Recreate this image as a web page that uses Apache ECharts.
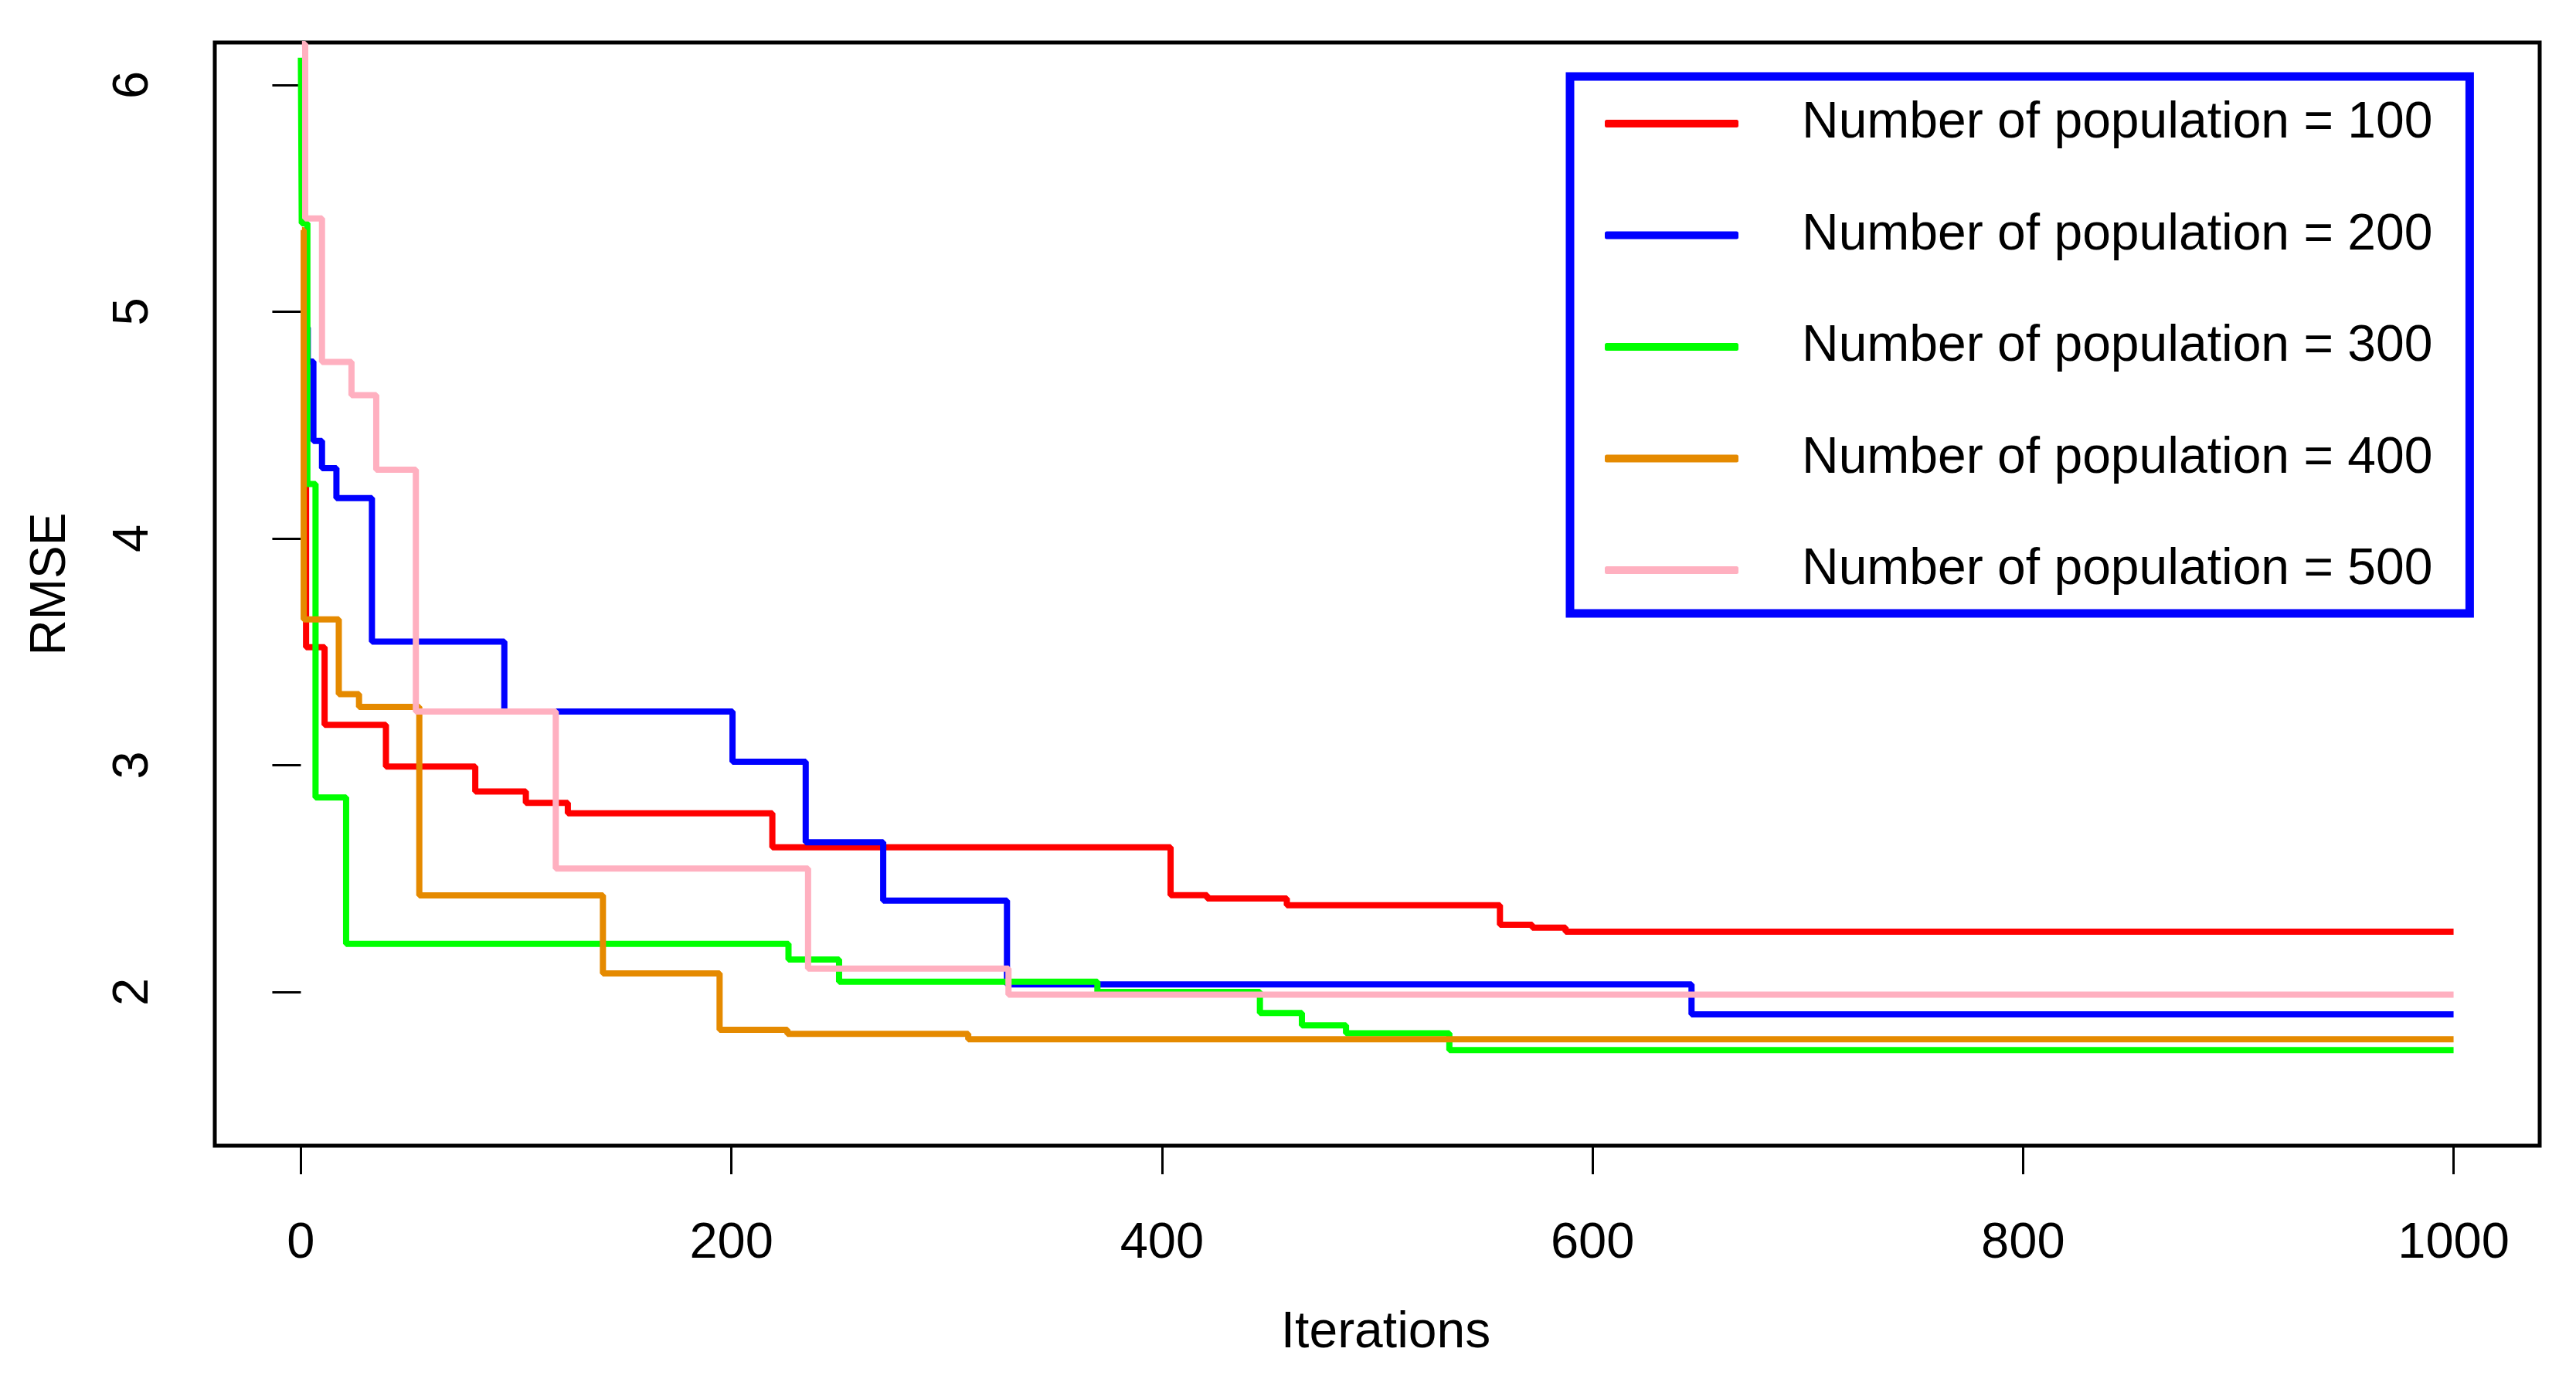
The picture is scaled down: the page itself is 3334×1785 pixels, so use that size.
<!DOCTYPE html>
<html>
<head>
<meta charset="utf-8">
<script src="https://cdn.jsdelivr.net/npm/echarts@6/dist/echarts.min.js"></script>
<style>
html,body{margin:0;padding:0;background:#fff;}
#chart{width:3334px;height:1785px;}
</style>
</head>
<body>
<div id="chart"></div>
<script>
// ---- data ----
const seriesNames = [
  'Number of population = 100',
  'Number of population = 200',
  'Number of population = 300',
  'Number of population = 400',
  'Number of population = 500'
];
const seriesColors = ['#FF0000', '#0000FF', '#00FF00', '#E58A00', '#FFB0C0'];

const iter100 = [0.5, 2.4, 11, 39.5, 81, 104.5, 124, 219, 404, 421, 458, 557, 572, 587.5, 1000];
const rmse100 = [5.1, 3.52, 3.178, 2.994, 2.884, 2.834, 2.788, 2.638, 2.427, 2.412, 2.382, 2.296, 2.284, 2.266, 2.266];

const iter200 = [1, 3.2, 5.8, 9.8, 16.5, 33, 94.5, 200.5, 234.5, 270.5, 328, 646, 1000];
const rmse200 = [4.93, 4.78, 4.43, 4.31, 4.178, 3.545, 3.237, 3.015, 2.66, 2.403, 2.033, 1.901, 1.901];

const iter300 = [0, 0.4, 3, 6.8, 21, 226.5, 250, 370, 445.5, 465, 485.5, 533.5, 1000];
const rmse300 = [6.12, 5.39, 4.24, 2.858, 2.212, 2.143, 2.045, 2.0, 1.907, 1.853, 1.818, 1.744, 1.744];

const iter400 = [0.5, 1.3, 17.6, 27, 55, 140.3, 194.5, 226, 310, 1000];
const rmse400 = [5.36, 3.643, 3.313, 3.257, 2.426, 2.082, 1.833, 1.815, 1.791, 1.791];

const iter500 = [0.5, 2, 9.8, 23.5, 35, 53.4, 118.4, 235.6, 328.7, 1000];
const rmse500 = [6.18, 5.411, 4.778, 4.632, 4.303, 3.237, 2.544, 2.103, 1.988, 1.988];

const xTicks = [0, 200, 400, 600, 800, 1000];
const yTicks = [2, 3, 4, 5, 6];

const iterList = [iter100, iter200, iter300, iter400, iter500];
const rmseList = [rmse100, rmse200, rmse300, rmse400, rmse500];

// ---- chart ----
const FONT = 'Liberation Sans, Arial, Helvetica, sans-serif';
const chart = echarts.init(document.getElementById('chart'), null, {renderer: 'canvas'});

const series = seriesNames.map((name, k) => ({
  name: name,
  type: 'line',
  step: 'end',
  showSymbol: false,
  symbol: 'none',
  clip: true,
  color: seriesColors[k],
  lineStyle: {color: seriesColors[k], width: 8},
  data: iterList[k].map((x, i) => [x, rmseList[k][i]])
}));

chart.setOption({
  animation: false,
  backgroundColor: '#fff',
  grid: {
    left: 278, right: 47, top: 55, bottom: 302,
    show: true, borderColor: '#000', borderWidth: 5, backgroundColor: 'transparent'
  },
  xAxis: {
    type: 'value',
    min: -40, max: 1040,
    name: 'Iterations',
    nameLocation: 'middle',
    nameGap: 210,
    nameTextStyle: {fontFamily: FONT, fontSize: 66, color: '#000', lineHeight: 66, padding: [0, 0, 0, 22]},
    axisLine: {show: false},
    splitLine: {show: false},
    axisTick: {show: true, customValues: xTicks, length: 37, lineStyle: {color: '#000', width: 3}},
    axisLabel: {show: true, customValues: xTicks, margin: 95, fontFamily: FONT, fontSize: 65, lineHeight: 65, color: '#000',
      formatter: v => String(v)}
  },
  yAxis: {
    type: 'value',
    min: 1.322, max: 6.187,
    name: 'RMSE',
    nameLocation: 'middle',
    nameRotate: 90,
    nameGap: 180,
    nameTextStyle: {fontFamily: FONT, fontSize: 64, color: '#000', lineHeight: 64, padding: [0, 0, 0, 26]},
    axisLine: {show: false},
    splitLine: {show: false},
    axisTick: {show: true, customValues: yTicks, length: 37, lineStyle: {color: '#000', width: 3}},
    axisLabel: {show: true, customValues: yTicks, rotate: 90, margin: 72, fontFamily: FONT, fontSize: 65, lineHeight: 65, color: '#000',
      formatter: v => String(v)}
  },
  legend: {
    show: true,
    data: seriesNames,
    orient: 'vertical',
    left: 2032,
    top: 99,
    padding: [28, 48, 23, 45],
    itemGap: 78.5,
    itemWidth: 173,
    itemHeight: 10,
    icon: 'roundRect',
    borderColor: '#0000FF',
    borderWidth: 11,
    borderRadius: 0,
    backgroundColor: '#fff',
    selectedMode: false,
    textStyle: {fontFamily: FONT, fontSize: 66, lineHeight: 66, color: '#000', padding: [0, 0, 0, 77]}
  },
  series: series
});
</script>
</body>
</html>
